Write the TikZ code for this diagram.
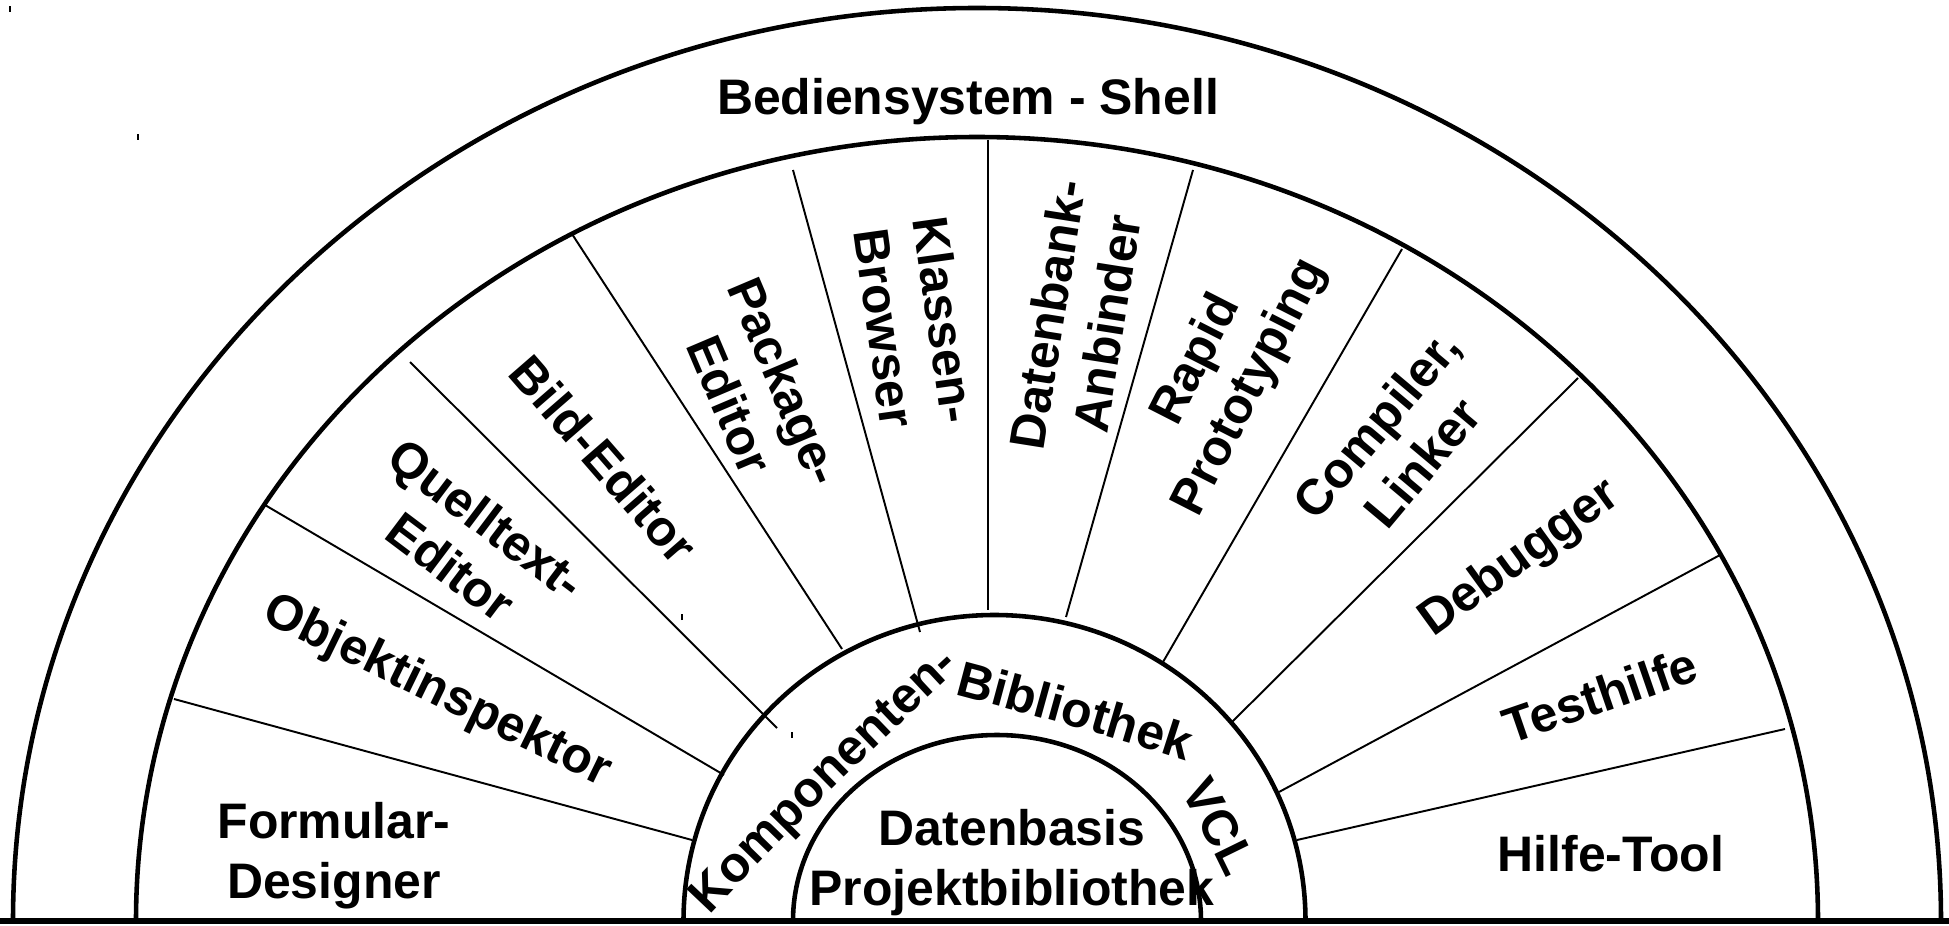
\documentclass[tikz,border=0pt]{standalone}
\usepackage{fontspec}
\setmainfont{Liberation Sans}
\usetikzlibrary{decorations.text}

\tikzset{
  ringarc/.style={line width=1.3pt},
  spoke/.style={line width=0.55pt},
  groundline/.style={line width=1.9pt},
  tooltext/.style={font=\bfseries\fontsize{14.2}{17.1}\selectfont, inner sep=0pt, align=center},
}
\newcommand{\ringfont}{\bfseries\fontsize{14.2}{17.1}\selectfont}

\begin{document}
\begin{tikzpicture}[x=0.1mm, y=0.1mm]

    \useasboundingbox (0,-4) rectangle (1949,921);

    \draw[ringarc] (13,0) arc[start angle=180, end angle=0, x radius=964, y radius=913];

    \draw[ringarc] (136,0) arc[start angle=180, end angle=0, x radius=841, y radius=784];

    \draw[ringarc] (683.5,0) arc[start angle=180, end angle=0, x radius=311, y radius=306];

    \draw[ringarc] (793,0) arc[start angle=180, end angle=0, x radius=204, y radius=186];



    \foreach \xa/\ya/\xb/\yb in {174/222/692/81, 265/416/724/146, 410/559/777/193,
        572/687/842/272, 793/751/920/289, 988/781/988/311, 1193/751/1066/304,
        1402/672/1163/259, 1578/543/1232/199, 1720/366/1279/129, 1785/192/1297/81}
      \draw[spoke] (\xa,\ya) -- (\xb,\yb);

    \foreach \xt/\yt in {10/909, 138/781, 682/301, 792/183}
      \draw[line width=0.3pt] (\xt,\yt) -- ++(0,6);

    \draw[groundline] (0,0) -- (1949,0);



    \node[tooltext, anchor=base] (shell) at (968,806) {Bediensystem - Shell};

    \node[tooltext, anchor=north] (formular) at (334,119) {Formular-\\Designer};
    \node[tooltext, rotate=-26] (objekt) at (437,229) {Objektinspektor};
    \node[tooltext, rotate=-37] (quelltext) at (469,378) {Quelltext-\\Editor};
    \node[tooltext, rotate=-49] (bild) at (604,462) {Bild-Editor};
    \node[tooltext, rotate=-67] (package) at (758,528) {Package-\\Editor};
    \node[tooltext, rotate=-82] (klassen) at (915,597) {Klassen-\\Browser};
    \node[tooltext, rotate=81] (datenbank) at (1077,602) {Datenbank-\\Anbinder};
    \node[tooltext, rotate=63] (rapid) at (1224,547) {Rapid\\Prototyping};
    \node[tooltext, rotate=50] (compiler) at (1399,478) {Compiler,\\Linker};
    \node[tooltext, rotate=36] (debugger) at (1520,362) {Debugger};
    \node[tooltext, rotate=19] (testhilfe) at (1600,226) {Testhilfe};
    \node[tooltext, anchor=base] (hilfe) at (1611,50) {Hilfe-Tool};

    \node[tooltext, anchor=north] (datenbasis) at (1012,112) {Datenbasis\\Projektbibliothek};



    \path[decorate, decoration={text along path, text align=center, text={|\ringfont|Komponenten-}}]
      (693,-12) .. controls (784,86) and (879,180) .. (978,270);
    \path[decorate, decoration={text along path, text align=center, text={|\ringfont|Bibliothek}}]
      (930,233) .. controls (1010,212) and (1130,180) .. (1210,152);
    \path[decorate, decoration={text along path, text align=center, text={|\ringfont|VCL}}]
      (1165,158) .. controls (1193,111) and (1218,63) .. (1240,14);

\end{tikzpicture}
\end{document}
